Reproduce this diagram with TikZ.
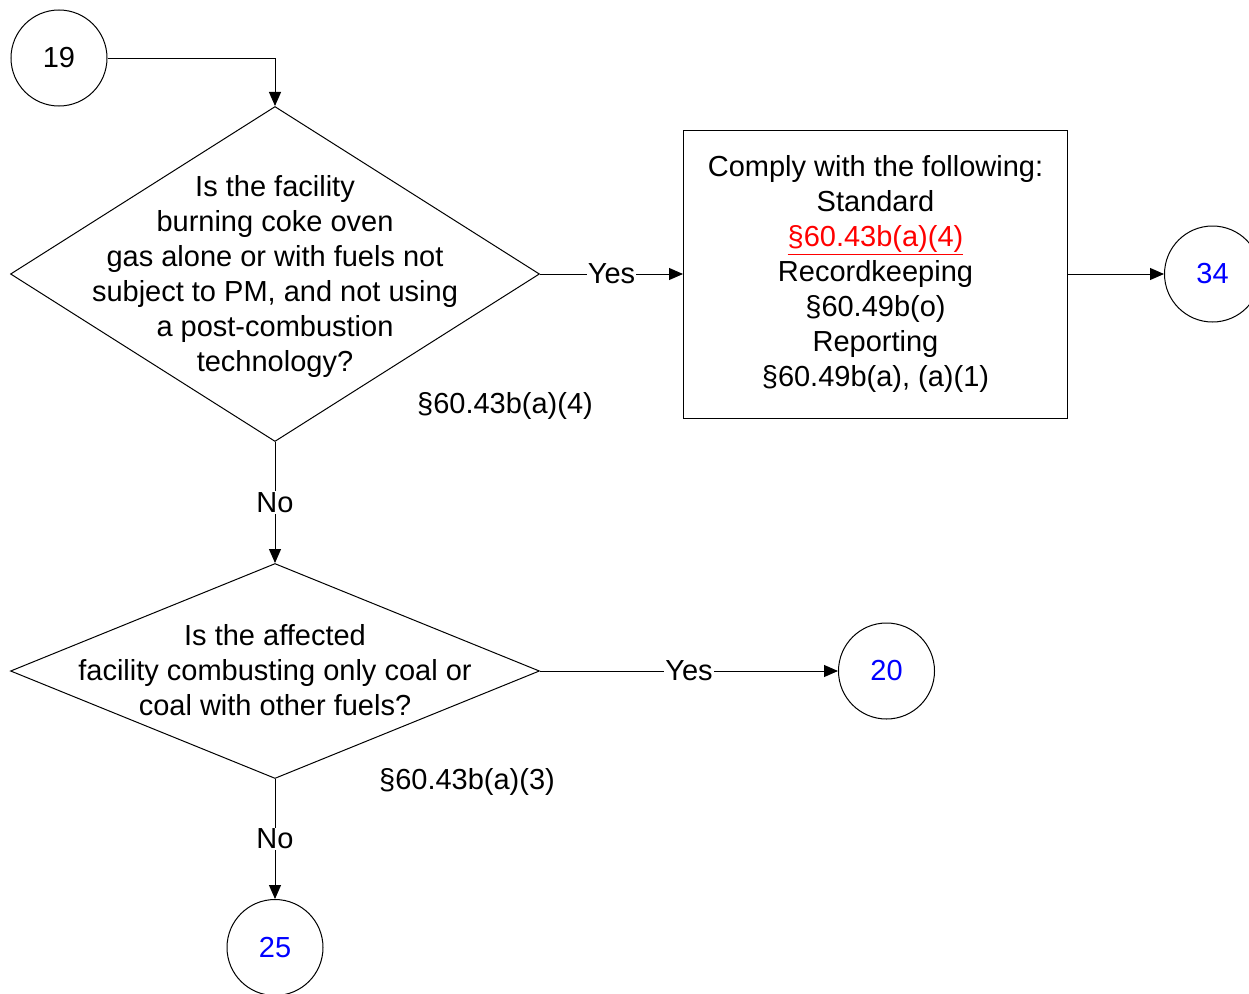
\documentclass[tikz,border=0pt]{standalone}
\usepackage{fontspec}
\setmainfont{Liberation Sans}
\usepackage{xcolor}
\usetikzlibrary{shapes.geometric, arrows.meta, positioning}

\begin{document}
\begin{tikzpicture}[
      x=1pt, y=-1pt,
      font=\fontsize{29}{35}\selectfont,
      every node/.style={line width=1pt},
      decision/.style={diamond, draw, inner sep=0pt, minimum width=529pt, minimum height=335pt},
      qtext/.style={align=center, inner sep=0pt, yshift=-2pt},
      action/.style={rectangle, draw, align=center, minimum width=384pt, minimum height=288pt},
      connector/.style={circle, draw, minimum size=96pt, inner sep=0pt},
      goto/.style={connector, text=blue},
      ref/.style={inner sep=0pt},
      answer/.style={fill=white, inner sep=1pt},
      arrow/.style={-{Triangle[length=14pt, width=12pt]}, line width=1pt}
    ]
    \useasboundingbox (0,0) rectangle (1249,993);

    \node[connector] (c19) at (59,58) {19};
    \node[decision, label={[qtext]center:Is the facility\\burning coke oven\\gas alone or with fuels not\\subject to PM, and not using\\a post-combustion\\technology?}] (q1) at (275,274) {};
    \node[action, right=143pt of q1] (comply) {Comply with the following:\\Standard\\\textcolor{red}{\underline{§60.43b(a)(4)}}\\Recordkeeping\\§60.49b(o)\\Reporting\\§60.49b(a), (a)(1)};
    \node[goto, right=96pt of comply] (c34) {34};
    \node[ref] (r1) at (505,406) {§60.43b(a)(4)};

    \node[decision, minimum height=215pt, below=121pt of q1, label={[qtext, yshift=3pt]center:Is the affected\\facility combusting only coal or\\coal with other fuels?}] (q2) {};
    \node[goto, right=298pt of q2] (c20) {20};
    \node[ref] (r2) at (467,782) {§60.43b(a)(3)};
    \node[goto, below=120pt of q2] (c25) {25};

    \draw[arrow] (c19) -| (q1);
    \draw[arrow] (q1) -- node[answer] {Yes} (comply);
    \draw[arrow] (comply) -- (c34);
    \draw[arrow] (q1) -- node[answer] {No} (q2);
    \draw[arrow] (q2) -- node[answer] {Yes} (c20);
    \draw[arrow] (q2) -- node[answer] {No} (c25);

\end{tikzpicture}
\end{document}
